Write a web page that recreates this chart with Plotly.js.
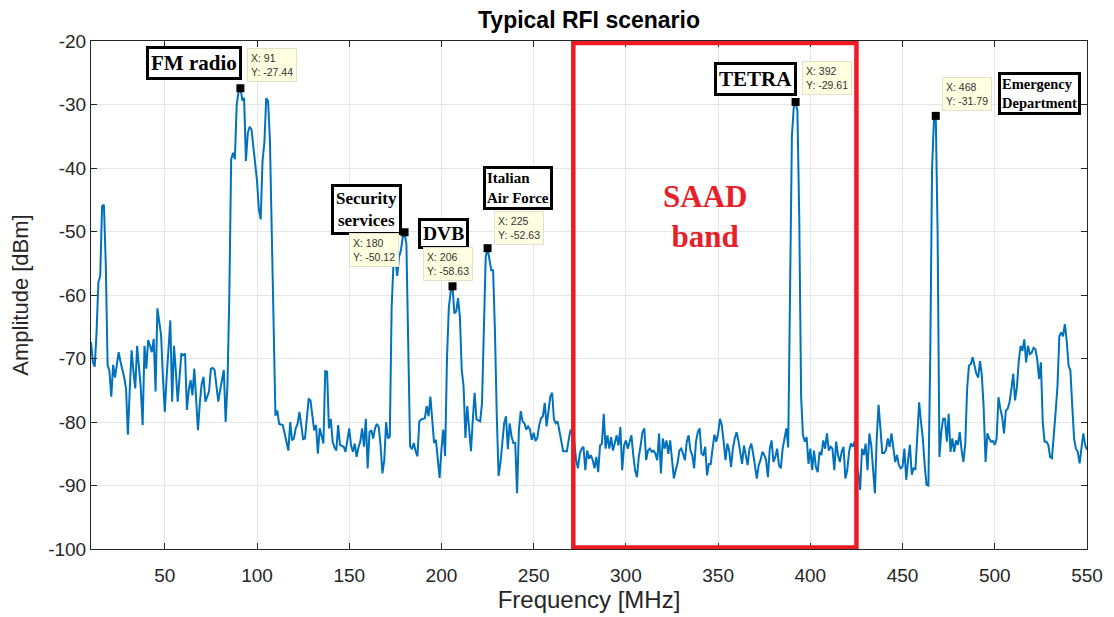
<!DOCTYPE html>
<html>
<head>
<meta charset="utf-8">
<script src="https://cdn.plot.ly/plotly-3.0.1.min.js"></script>
<style>html,body{margin:0;padding:0;background:#fff;}#chart{width:1114px;height:617px;}</style>
</head>
<body>
<div id="chart"></div>
<script>
// Frequency grid: 10..550 MHz, 1 MHz step
const freqStart = 10, freqEnd = 550;
// Amplitude [dBm], one value per MHz starting at 10 MHz
const amplitude = [
/*10*/ -67.4,-70.5,-71.3,-66,-58,-57,-46,-45.8,-55,-71,
/*20*/ -72,-76,-71,-73,-71,-69,-70.5,-71.6,-73,-74.7,
/*30*/ -82,-75,-68.7,-72,-74.7,-68,-71,-74.7,-80.5,-68,
/*40*/ -71.6,-67.1,-68,-69,-66.9,-75.2,-62.1,-64.5,-66.3,-73,
/*50*/ -78.4,-73,-68,-64,-76.8,-68,-72,-76.8,-73,-69.2,
/*60*/ -69.5,-69.2,-78.1,-75,-73.4,-75.8,-71.6,-76,-81.3,-77,
/*70*/ -74,-72.9,-76.8,-76,-75.2,-71.6,-71.5,-71.8,-74.5,-76.8,
/*80*/ -75,-73,-71.8,-80,-74,-60,-38.6,-37.6,-38.6,-30,
/*90*/ -28,-27.44,-29.2,-29,-38.9,-34.5,-33.5,-33.9,-36.5,-39.7,
/*100*/ -42,-46.5,-48.1,-38.9,-36,-29,-29.5,-35.5,-49.6,-68,
/*110*/ -79,-78.2,-80.3,-80.4,-80.5,-81.8,-83,-84.5,-80,-82.9,
/*120*/ -82.6,-81,-80.3,-78.4,-80.5,-82.7,-82.6,-80,-76.4,-76.6,
/*130*/ -79.5,-81.3,-80.5,-85,-81,-82.1,-83.4,-72,-72.1,-81,
/*140*/ -79.5,-83.1,-84,-84.5,-80.5,-83.6,-83.7,-83.9,-84.7,-82.9,
/*150*/ -81,-83.7,-84.7,-83.4,-85.5,-84,-83.1,-81,-83.9,-79.5,
/*160*/ -87.3,-81.6,-81.3,-82.6,-81,-80.3,-80.8,-83.7,-88.1,-86,
/*170*/ -80,-82.6,-82.3,-62,-55,-54,-57,-54,-53,-51,
/*180*/ -50.12,-52,-65.5,-83.8,-84.3,-83.3,-84.6,-85.4,-79.9,-79.6,
/*190*/ -79.5,-79.4,-77.5,-79.1,-76,-79.1,-83.3,-82.8,-86,-88.8,
/*200*/ -84.3,-81.2,-85.4,-70,-62,-59.5,-58.63,-62.9,-62.6,-60.5,
/*210*/ -63.4,-71.8,-74.4,-82.5,-77.5,-80.7,-84.6,-79.6,-75.4,-79.6,
/*220*/ -79.8,-79.9,-77,-64.5,-54,-52.63,-54.8,-56.1,-56.1,-65.5,
/*230*/ -79.1,-88.5,-86.4,-83.3,-80.2,-79.1,-84.3,-80.2,-82.3,-83.3,
/*240*/ -83.3,-91.2,-81.2,-78.3,-79.9,-80.2,-81.2,-80.7,-81.2,-82.8,
/*250*/ -81.7,-83,-82.5,-80.5,-79.4,-79.1,-77,-80.7,-78,-76,
/*260*/ -75.4,-79.6,-80.2,-79.9,-81.5,-83.3,-84.6,-84.6,-84.6,-82.8,
/*270*/ -81.2,-82,-83.1,-86,-87.3,-85,-84.2,-83.9,-87.6,-84.5,
/*280*/ -85.8,-85.2,-86,-87.3,-85.5,-87.9,-83.7,-83.4,-78.7,-84.2,
/*290*/ -82.1,-84.2,-82.4,-84.5,-83.1,-82.1,-83.7,-80.8,-87.6,-83.7,
/*300*/ -82.9,-84.2,-83.1,-82.1,-85.2,-87.6,-88.7,-85.5,-83.7,-81.6,
/*310*/ -81,-86,-84.5,-84.2,-84.7,-84.5,-85,-86,-81.8,-88.1,
/*320*/ -82.6,-84.2,-82.9,-85,-82.9,-85.5,-88.9,-87.6,-86.5,-84.5,
/*330*/ -84.2,-85,-86,-83.1,-82.1,-84.5,-85.2,-87.3,-83.1,-81.6,
/*340*/ -81,-85,-85.2,-83.9,-88.4,-86.6,-86.6,-84.2,-82,-83.1,
/*350*/ -81.8,-79.5,-80.5,-83.1,-86,-83.4,-84.5,-87.1,-84.2,-82.6,
/*360*/ -81.6,-82.9,-85,-86.6,-83.7,-85,-86.8,-84.2,-83.4,-85,
/*370*/ -87.3,-88.9,-86.8,-86,-84.7,-85.2,-86,-88.7,-84.2,-82.9,
/*380*/ -86.3,-85.5,-84.2,-86.8,-87.3,-84.2,-82.6,-81,-84,-62,
/*390*/ -35,-30.5,-29.61,-31,-48,-76,-82.1,-83.1,-82.4,-86.6,
/*400*/ -84.2,-87.6,-84.5,-87.1,-87.9,-84.7,-85.2,-82.9,-84.2,-81.8,
/*410*/ -84.5,-83.9,-84.2,-87.6,-83.1,-85.2,-86.3,-84.7,-83.9,-88.9,
/*420*/ -87.6,-84.7,-83.4,-83.9,-83.1,-86.8,-88,-90.7,-84.2,-85.2,
/*430*/ -83.4,-87.6,-81.8,-83.6,-87,-91.2,-82.6,-77.3,-81,-84.9,
/*440*/ -84.9,-84.4,-82.6,-83.9,-81.8,-84,-86.3,-85.2,-86.8,-87.3,
/*450*/ -87,-84.2,-89.1,-86,-83.6,-88.3,-87.3,-87.4,-82.6,-76.9,
/*460*/ -80,-82.6,-86.8,-89.9,-90,-70,-40,-32.5,-31.79,-50,
/*470*/ -85.5,-81.6,-79.5,-79.5,-83.1,-78.7,-84.7,-82.6,-84.7,-82.9,
/*480*/ -83.6,-81.6,-84.4,-86.3,-83.4,-74.8,-71.1,-70.9,-69.8,-71.1,
/*490*/ -72.4,-73,-70.4,-72.7,-77.9,-86.3,-81.8,-82.6,-83.1,-83,
/*500*/ -83.6,-82.6,-76.1,-77.9,-79.2,-81.8,-78.2,-77.9,-76.9,-74.8,
/*510*/ -72.4,-76.6,-74.5,-70.4,-68,-68.8,-67,-70.6,-68,-69.3,
/*520*/ -69.1,-68.3,-68.5,-70.1,-73.2,-70.6,-80,-83.1,-83.1,-83.6,
/*530*/ -85.5,-85.7,-82.6,-78.4,-74.3,-66.5,-65.9,-66.5,-64.6,-67.2,
/*540*/ -71.1,-71.9,-77.4,-82.6,-84.2,-84.7,-86.5,-84.2,-81.8,-83.6,
/*550*/ -84.4
];
const frequency = [];
for (let f = freqStart; f <= freqEnd; f++) frequency.push(f);

// Data tips
const tipX = [91, 180, 206, 225, 392, 468];
const tipY = [-27.44, -50.12, -58.63, -52.63, -29.61, -31.79];

// Signal labels
const signalLabels = ['FM radio', 'Security<br>services', 'DVB', 'Italian<br>Air Force', 'TETRA', 'Emergency<br>Department'];

// Ticks
const xTicks = [50, 100, 150, 200, 250, 300, 350, 400, 450, 500, 550];
const yTicks = [-100, -90, -80, -70, -60, -50, -40, -30, -20];
const yTickText = ['-100', '-90', '-80', '-70', '-60', '-50', '-40', '-30', '-20'];

// SAAD band limits
const saadBand = [271.5, 425];

const SANS = 'Liberation Sans, Arial, Helvetica, sans-serif';
const SERIF = 'Liberation Serif, Times New Roman, serif';

const traces = [
  {
    x: frequency, y: amplitude, type: 'scatter', mode: 'lines',
    line: {color: '#0072BD', width: 2}, hoverinfo: 'skip', showlegend: false
  },
  {
    x: tipX, y: tipY, type: 'scatter', mode: 'markers',
    marker: {symbol: 'square', size: 8, color: '#000'}, hoverinfo: 'skip', showlegend: false
  }
];

// annotation placements (data coords) for labels and data tips, plus font size
const labelPos = [[65.8, -23.5, 21], [159.1, -46.5, 17], [201.1, -50.3, 19.5], [241.5, -43.1, 15], [370, -26, 21], [524.5, -28.3, 14.5]];
const tipPos = [[107.9, -23.8], [163.4, -52.9], [203.6, -55.1], [242.1, -49.4], [408.8, -25.9], [485, -28.3]];

const annotations = [];
signalLabels.forEach((t, i) => {
  annotations.push({
    x: labelPos[i][0], y: labelPos[i][1], xref: 'x', yref: 'y', showarrow: false,
    text: '<b>' + t + '</b>', align: (i === 3 || i === 5) ? 'left' : 'center',
    font: {family: SERIF, size: labelPos[i][2], color: '#000'},
    bgcolor: '#fff', bordercolor: '#000', borderwidth: 3, borderpad: (i === 3 || i === 5) ? 1 : 2
  });
});
tipX.forEach((x, i) => {
  annotations.push({
    x: tipPos[i][0], y: tipPos[i][1], xref: 'x', yref: 'y', showarrow: false,
    text: 'X: ' + x + '<br>Y: ' + tipY[i].toFixed(2), align: 'left',
    font: {family: SANS, size: 10.5, color: '#333'},
    bgcolor: '#FFFFE1', bordercolor: '#E2E2CC', borderwidth: 1, borderpad: 3
  });
});
annotations.push({
  x: 342.9, y: -47.6, xref: 'x', yref: 'y', showarrow: false,
  text: '<b>SAAD<br>band</b>', align: 'center',
  font: {family: SERIF, size: 31, color: '#E8202A'}
});

const layout = {
  width: 1114, height: 617,
  margin: {l: 91, r: 27, t: 41, b: 68},
  paper_bgcolor: '#fff', plot_bgcolor: '#fff',
  font: {family: SANS, color: '#262626'},
  title: {
    text: '<b>Typical RFI scenario</b>', x: 0.5, xref: 'paper',
    y: 0.968, yref: 'container', yanchor: 'middle',
    font: {family: SANS, size: 23, color: '#000'}
  },
  xaxis: {
    range: [10, 550], tickvals: xTicks, ticks: 'inside', ticklen: 6, tickcolor: '#262626',
    showline: true, linecolor: '#262626', linewidth: 1, mirror: 'ticks',
    showgrid: true, gridcolor: '#E6E6E6', zeroline: false,
    ticklabelstandoff: 9,
    tickfont: {family: SANS, size: 19, color: '#262626'},
    title: {text: 'Frequency [MHz]', font: {family: SANS, size: 24, color: '#262626'}, standoff: 4}
  },
  yaxis: {
    range: [-100, -20], tickvals: yTicks, ticktext: yTickText, ticks: 'inside', ticklen: 6, tickcolor: '#262626',
    showline: true, linecolor: '#262626', linewidth: 1, mirror: 'ticks',
    showgrid: true, gridcolor: '#E6E6E6', zeroline: false,
    tickfont: {family: SANS, size: 19, color: '#262626'},
    title: {text: 'Amplitude [dBm]', font: {family: SANS, size: 22, color: '#262626'}, standoff: 13}
  },
  shapes: [{
    type: 'rect', xref: 'x', yref: 'y', x0: saadBand[0], x1: saadBand[1], y0: -99.75, y1: -20.3,
    line: {color: '#ED1C24', width: 4.5}, fillcolor: 'rgba(0,0,0,0)', layer: 'above'
  }],
  annotations: annotations
};

Plotly.newPlot('chart', traces, layout, {displayModeBar: false, staticPlot: true});
</script>
</body>
</html>
